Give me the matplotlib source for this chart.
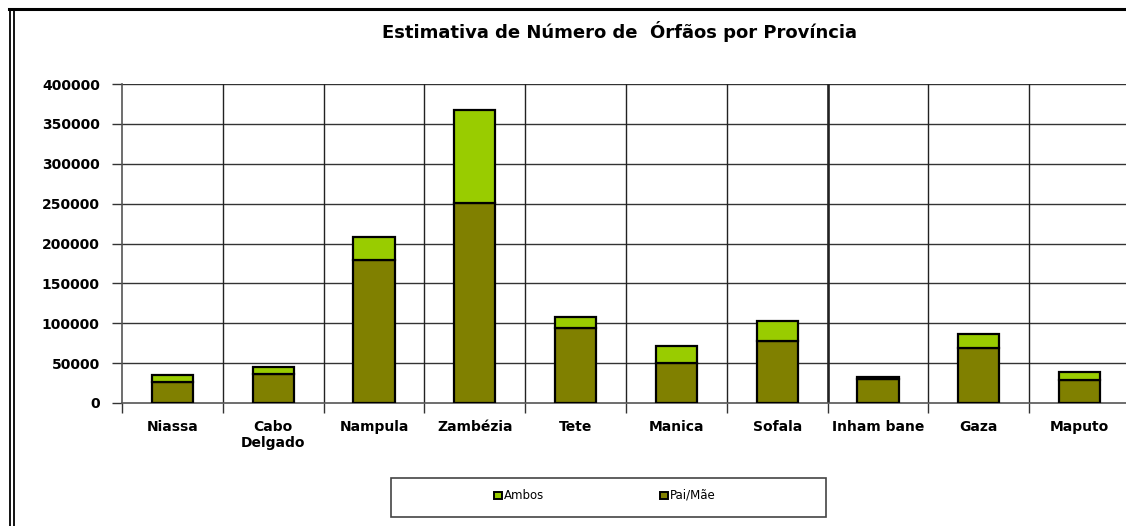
import matplotlib
matplotlib.use("Agg")
import matplotlib.pyplot as plt
from matplotlib.patches import Rectangle
import numpy as np

provinces = ["Niassa", "Cabo\nDelgado", "Nampula", "Zambézia", "Tete",
             "Manica", "Sofala", "Inham bane", "Gaza", "Maputo"]
pai_mae = [26300, 36000, 179000, 250400, 94400, 50600, 77300, 29700, 69400, 29300]
ambos = [8400, 9500, 29000, 117000, 13800, 20900, 25900, 3300, 17100, 9200]
yticks = [0, 50000, 100000, 150000, 200000, 250000, 300000, 350000, 400000]
title = "Estimativa de Número de  Órfãos por Província"
legend_labels = ["Ambos", "Pai/Mãe"]

c_pai = "#808000"
c_amb = "#99CC00"
grid_c = "#333333"

W, H = 1126, 526
fig = plt.figure(figsize=(W / 100, H / 100), dpi=100)
fig.patch.set_facecolor("white")

ax = fig.add_axes([122 / W, (H - 403) / H, 1008 / W, 319 / H])
x = np.arange(len(provinces))
ax.set_xlim(-0.5, len(provinces) - 0.5)
ax.set_ylim(0, 400000)

# grid
for yv in yticks[1:]:
    ax.axhline(yv, color=grid_c, lw=1.0, zorder=1)
for i, b in enumerate(np.arange(0.5, len(provinces) - 0.5, 1.0)):
    ax.axvline(b, color="#222222", lw=1.9 if i == 6 else 1.0, zorder=1)

ax.bar(x, pai_mae, width=0.41, color=c_pai, edgecolor="black", linewidth=1.6, zorder=3)
ax.bar(x, ambos, width=0.41, bottom=pai_mae, color=c_amb, edgecolor="black",
       linewidth=1.6, zorder=3)

for s in ["top", "right"]:
    ax.spines[s].set_visible(False)
ax.spines["left"].set_color("#555555")
ax.spines["left"].set_linewidth(1.2)
ax.spines["bottom"].set_color("#555555")
ax.spines["bottom"].set_linewidth(1.2)

ax.set_yticks(yticks)
ax.set_yticklabels([str(v) for v in yticks], fontsize=10, fontweight="bold",
                   family="DejaVu Sans")
ax.tick_params(axis="y", direction="out", length=7, width=1, color="#333333", pad=9)

ax.set_xticks(x)
ax.set_xticklabels(provinces, fontsize=10, fontweight="bold", family="DejaVu Sans",
                   linespacing=1.25)
ax.tick_params(axis="x", which="major", length=0, pad=12)
ax.set_xticks(np.arange(-0.5, len(provinces) + 0.5, 1.0), minor=True)
ax.tick_params(axis="x", which="minor", direction="out", length=7, width=1, color="#333333")

fig.text(619 / W, 1 - 32 / H, title, ha="center", va="center", fontsize=13,
         fontweight="bold", family="DejaVu Sans")

# outer frame (top + double left line)
fig.add_artist(plt.Line2D([9 / W, 1], [1 - 9 / H, 1 - 9 / H], color="black", lw=2.2,
                          transform=fig.transFigure))
for xl in (9.5, 13.5):
    fig.add_artist(plt.Line2D([xl / W, xl / W], [0, 1 - 9 / H], color="black", lw=1.3,
                              transform=fig.transFigure))

# legend
fig.add_artist(Rectangle((391 / W, 1 - 517 / H), 435 / W, 39 / H, transform=fig.transFigure,
                         facecolor="white", edgecolor="#444444", lw=1.2))
for lab, col, mx in zip(legend_labels, [c_amb, c_pai], [494, 660]):
    fig.add_artist(Rectangle((mx / W, 1 - 499 / H), 8 / W, 7 / H, transform=fig.transFigure,
                             facecolor=col, edgecolor="black", lw=1.4))
    fig.text((mx + 10) / W, 1 - 495.5 / H, lab, ha="left", va="center", fontsize=8.5,
             family="DejaVu Sans")

fig.savefig("out.png", dpi=100)
